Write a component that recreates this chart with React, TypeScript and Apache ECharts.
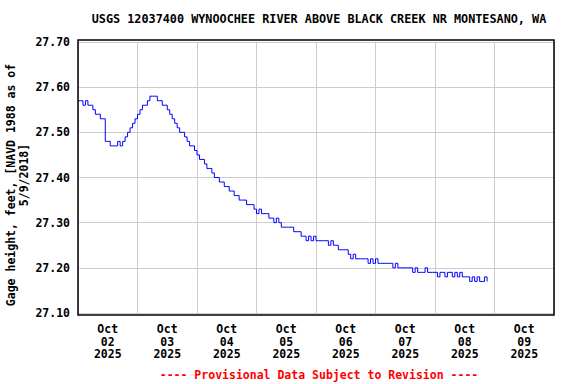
import React, { useEffect, useRef } from "react";
import * as echarts from "echarts";

const TITLE = "USGS 12037400 WYNOOCHEE RIVER ABOVE BLACK CREEK NR MONTESANO, WA";
const Y_TITLE_1 = "Gage height, feet, [NAVD 1988 as of";
const Y_TITLE_2 = "5/9/2018]";
const FOOTNOTE = "---- Provisional Data Subject to Revision ----";
const MONTH = "Oct";
const YEAR = "2025";
const DAYS = ["02", "03", "04", "05", "06", "07", "08", "09"];
const Y_TICKS = [27.1, 27.2, 27.3, 27.4, 27.5, 27.6, 27.7];

// hourly gage height, starting Oct 02 00:00
const GAGE_HEIGHT = [
  27.57, 27.57, 27.56, 27.57, 27.56, 27.56, 27.55, 27.54, 27.54, 27.53,
  27.53, 27.48, 27.48, 27.47, 27.47, 27.47, 27.48, 27.47, 27.48, 27.49,
  27.50, 27.51, 27.52, 27.53, 27.54, 27.55, 27.56, 27.56, 27.57, 27.58,
  27.58, 27.58, 27.57, 27.57, 27.56, 27.56, 27.55, 27.54, 27.53, 27.52,
  27.51, 27.50, 27.50, 27.49, 27.48, 27.47, 27.47, 27.46, 27.45, 27.44,
  27.44, 27.43, 27.42, 27.42, 27.41, 27.40, 27.40, 27.39, 27.39, 27.38,
  27.38, 27.37, 27.37, 27.36, 27.36, 27.35, 27.35, 27.35, 27.34, 27.34,
  27.34, 27.33, 27.32, 27.33, 27.32, 27.32, 27.32, 27.31, 27.31, 27.30,
  27.31, 27.30, 27.29, 27.29, 27.29, 27.29, 27.29, 27.28, 27.28, 27.28,
  27.27, 27.27, 27.26, 27.27, 27.26, 27.27, 27.26, 27.26, 27.26, 27.26,
  27.26, 27.25, 27.26, 27.25, 27.25, 27.24, 27.24, 27.24, 27.24, 27.23,
  27.22, 27.23, 27.22, 27.22, 27.22, 27.22, 27.22, 27.21, 27.22, 27.21,
  27.22, 27.21, 27.21, 27.21, 27.21, 27.21, 27.21, 27.20, 27.21, 27.20,
  27.20, 27.20, 27.20, 27.20, 27.20, 27.19, 27.20, 27.19, 27.19, 27.19,
  27.20, 27.19, 27.19, 27.19, 27.19, 27.18, 27.19, 27.19, 27.18, 27.19,
  27.19, 27.18, 27.19, 27.18, 27.19, 27.18, 27.18, 27.18, 27.17, 27.18,
  27.17, 27.18, 27.17, 27.17, 27.18, 27.17,
];

const FONT = "'DejaVu Sans Mono', monospace";

export default function App() {
  const ref = useRef<HTMLDivElement>(null);
  useEffect(() => {
    if (!ref.current) return;
    const chart = echarts.init(ref.current, undefined, { renderer: "svg" });
    const hoursTotal = DAYS.length * 24;
    const data = GAGE_HEIGHT.map((v, i) => [i, v]);
    chart.setOption({
      animation: false,
      backgroundColor: "#ffffff",
      grid: { left: 78, right: 22, top: 42, bottom: 71, containLabel: false },
      xAxis: [
        {
          type: "value",
          min: 0,
          max: hoursTotal,
          interval: 24,
          axisLine: { show: false },
          axisTick: { show: false },
          axisLabel: { show: false },
          splitLine: { show: true, lineStyle: { color: "#cccccc", width: 1 } },
        },
        {
          type: "value",
          position: "bottom",
          min: 0,
          max: hoursTotal,
          interval: 12,
          axisLine: { show: false },
          axisTick: { show: false },
          splitLine: { show: false },
          axisLabel: {
            show: true,
            margin: 10,
            showMinLabel: false,
            showMaxLabel: false,
            fontFamily: FONT,
            fontWeight: "bold",
            fontSize: 11.5,
            lineHeight: 12.5,
            color: "#000",
            formatter: (v: number) => {
              if (v % 24 !== 12) return "";
              const k = Math.floor(v / 24);
              return `${MONTH}\n${DAYS[k]}\n${YEAR}`;
            },
          },
        },
      ],
      yAxis: {
        type: "value",
        min: Y_TICKS[0],
        max: Y_TICKS[Y_TICKS.length - 1],
        interval: 0.1,
        axisLine: { show: false },
        axisTick: { show: false },
        splitLine: { show: true, lineStyle: { color: "#cccccc", width: 1 } },
        axisLabel: {
          margin: 8,
          fontFamily: FONT,
          fontWeight: "bold",
          fontSize: 11.5,
          color: "#000",
          formatter: (v: number) => v.toFixed(2),
        },
      },
      series: [
        {
          type: "line",
          xAxisIndex: 0,
          data,
          step: "end",
          showSymbol: false,
          symbol: "none",
          lineStyle: { color: "#0000ff", width: 1 },
          silent: true,
        },
      ],
      graphic: [
        {
          type: "rect",
          shape: { x: 78, y: 40, width: 476, height: 275 },
          style: { fill: "none", stroke: "#000", lineWidth: 1.5 },
          silent: true,
          z: 100,
        },
        {
          type: "text",
          x: 319,
          y: 19,
          style: {
            text: TITLE,
            fontFamily: FONT,
            fontWeight: "bold",
            fontSize: 11.8,
            fill: "#000",
            textAlign: "center",
            textVerticalAlign: "middle",
          },
        },
        {
          type: "text",
          x: 11,
          y: 185,
          rotation: Math.PI / 2,
          style: {
            text: Y_TITLE_1,
            fontFamily: FONT,
            fontWeight: "bold",
            fontSize: 11.5,
            fill: "#000",
            textAlign: "center",
            textVerticalAlign: "middle",
          },
        },
        {
          type: "text",
          x: 24,
          y: 175,
          rotation: Math.PI / 2,
          style: {
            text: Y_TITLE_2,
            fontFamily: FONT,
            fontWeight: "bold",
            fontSize: 11.5,
            fill: "#000",
            textAlign: "center",
            textVerticalAlign: "middle",
          },
        },
        {
          type: "text",
          x: 319,
          y: 375,
          style: {
            text: FOOTNOTE,
            fontFamily: FONT,
            fontWeight: "bold",
            fontSize: 11.5,
            fill: "#ff0000",
            textAlign: "center",
            textVerticalAlign: "middle",
          },
        },
      ],
    });
    return () => chart.dispose();
  }, []);
  return <div ref={ref} style={{ width: 576, height: 384, position: "absolute", left: 0, top: 0 }} />;
}
